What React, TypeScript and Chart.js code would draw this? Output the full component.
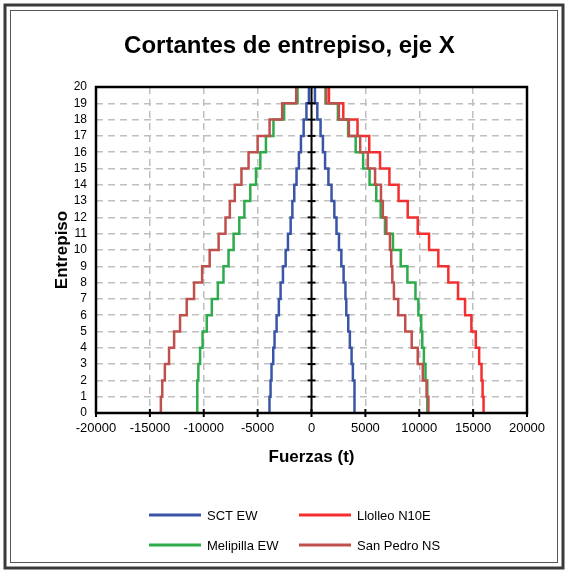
import { useEffect, useRef } from 'react';
import { Chart, registerables } from 'chart.js';

Chart.register(...registerables);

// Story shear per story (story 1 .. 20), values in t
const SCT_POS = [4030, 3970, 3840, 3720, 3560, 3410, 3230, 3150, 2980, 2770, 2550, 2320, 2120, 1860, 1570, 1260, 1060, 840, 540, 320];
const SCT_NEG = [-3900, -3800, -3710, -3550, -3430, -3240, -3030, -2870, -2650, -2400, -2185, -1935, -1775, -1600, -1390, -1170, -980, -730, -470, -240];
const LLOLLEO_POS = [15970, 15880, 15780, 15560, 15250, 14840, 14250, 13600, 12700, 11770, 10910, 9860, 8930, 8080, 7230, 6360, 5360, 4270, 2950, 1620];
const MELIPILLA_POS = [10800, 10720, 10580, 10430, 10280, 10180, 9920, 9650, 8900, 8280, 7560, 6820, 6420, 6010, 5390, 4790, 4100, 3400, 2450, 1300];
const MELIPILLA_NEG = [-10620, -10590, -10500, -10340, -10110, -9720, -9250, -8690, -8170, -7700, -7230, -6700, -6230, -5680, -5150, -4750, -4230, -3530, -2540, -1300];
const SANPEDRO_POS = [10850, 10680, 10330, 9860, 9300, 8700, 8050, 7650, 7500, 7400, 7280, 6950, 6620, 6450, 5900, 5230, 4520, 3470, 2540, 1380];
const SANPEDRO_NEG = [-13980, -13850, -13610, -13220, -12750, -12200, -11580, -10900, -10150, -9450, -8620, -7980, -7580, -7120, -6500, -5840, -5000, -3890, -2720, -1420];

const SERIES_NAMES = ['SCT EW', 'Llolleo N10E', 'Melipilla EW', 'San Pedro NS'];
const SERIES_COLORS = ['#3A55A6', '#F42F2F', '#2EAB4B', '#C0504D'];

const X_MIN = -20000;
const X_MAX = 20000;
const X_STEP = 5000;
const Y_MIN = 0;
const Y_MAX = 20;
const Y_STEP = 1;

const TITLE = 'Cortantes de entrepiso, eje X';
const X_TITLE = 'Fuerzas (t)';
const Y_TITLE = 'Entrepiso';

const FONT = "Arial, 'Liberation Sans', sans-serif";

const steps = (vals: number[]) =>
  vals.flatMap((v, i) => [
    { x: v, y: i },
    { x: v, y: i + 1 },
  ]);

const framePlugin = {
  id: 'frame',
  beforeDraw(chart: any) {
    const { ctx, width, height } = chart;
    ctx.save();
    ctx.fillStyle = '#ffffff';
    ctx.fillRect(0, 0, width, height);
    ctx.strokeStyle = '#3a3a3a';
    ctx.lineWidth = 3;
    ctx.strokeRect(5, 5, width - 10, height - 10);
    ctx.lineWidth = 1;
    ctx.strokeStyle = '#555555';
    ctx.strokeRect(10.5, 10.5, width - 21, height - 21);
    ctx.restore();
  },
  afterDraw(chart: any) {
    const { ctx, chartArea } = chart;
    ctx.save();
    ctx.fillStyle = '#000';
    ctx.font = `bold 24px ${FONT}`;
    ctx.textAlign = 'center';
    ctx.textBaseline = 'alphabetic';
    ctx.fillText(TITLE, (chartArea.left + chartArea.right) / 2 - 22, 53);
    ctx.restore();
  },
};

const axesPlugin = {
  id: 'axesOverlay',
  afterDatasetsDraw(chart: any) {
    const { ctx, chartArea, scales } = chart;
    const xs = scales.x;
    const ys = scales.y;
    ctx.save();
    ctx.strokeStyle = '#000';
    const x0 = xs.getPixelForValue(0);
    ctx.lineWidth = 2;
    ctx.beginPath();
    ctx.moveTo(x0, chartArea.top);
    ctx.lineTo(x0, chartArea.bottom);
    ctx.stroke();
    ys.ticks.forEach((t: any) => {
      const y = ys.getPixelForValue(t.value);
      ctx.beginPath();
      ctx.moveTo(x0 - 4, y);
      ctx.lineTo(x0 + 4, y);
      ctx.stroke();
    });
    xs.ticks.forEach((t: any) => {
      const x = xs.getPixelForValue(t.value);
      ctx.beginPath();
      ctx.moveTo(x, chartArea.bottom - 4);
      ctx.lineTo(x, chartArea.bottom + 4);
      ctx.stroke();
    });
    ctx.lineWidth = 2.5;
    ctx.strokeRect(chartArea.left, chartArea.top, chartArea.right - chartArea.left, chartArea.bottom - chartArea.top);
    ctx.restore();
  },
};

const legendPlugin = {
  id: 'gridLegend',
  afterDraw(chart: any) {
    const { ctx } = chart;
    const items = chart.data.datasets.filter((d: any) => d.inLegend);
    const colX = [149, 299];
    const rowY = [515, 545];
    ctx.save();
    ctx.font = `13px ${FONT}`;
    ctx.textBaseline = 'middle';
    ctx.textAlign = 'left';
    items.forEach((d: any, i: number) => {
      const x = colX[i % 2];
      const y = rowY[Math.floor(i / 2)];
      ctx.strokeStyle = d.borderColor;
      ctx.lineWidth = 3;
      ctx.beginPath();
      ctx.moveTo(x, y);
      ctx.lineTo(x + 52, y);
      ctx.stroke();
      ctx.fillStyle = '#000';
      ctx.fillText(d.label, x + 58, y + 1);
    });
    ctx.restore();
  },
};

export default function App() {
  const ref = useRef<HTMLCanvasElement | null>(null);
  useEffect(() => {
    if (!ref.current) return;
    const mk = (label: string, color: string, vals: number[], order: number, inLegend: boolean) => ({
      label,
      data: steps(vals),
      borderColor: color,
      backgroundColor: color,
      borderWidth: 2.5,
      pointRadius: 0,
      showLine: true,
      fill: false,
      tension: 0,
      order,
      inLegend,
    });
    const chart = new Chart(ref.current, {
      type: 'scatter',
      data: {
        datasets: [
          mk(SERIES_NAMES[0], SERIES_COLORS[0], SCT_POS, 3, true),
          mk(SERIES_NAMES[1], SERIES_COLORS[1], LLOLLEO_POS, 2, true),
          mk(SERIES_NAMES[2], SERIES_COLORS[2], MELIPILLA_POS, 1, true),
          mk(SERIES_NAMES[3], SERIES_COLORS[3], SANPEDRO_POS, 0, true),
          mk(SERIES_NAMES[0], SERIES_COLORS[0], SCT_NEG, 3, false),
          mk(SERIES_NAMES[2], SERIES_COLORS[2], MELIPILLA_NEG, 1, false),
          mk(SERIES_NAMES[3], SERIES_COLORS[3], SANPEDRO_NEG, 0, false),
        ] as any,
      },
      options: {
        animation: false,
        responsive: false,
        devicePixelRatio: 1,
        layout: { padding: { top: 87, right: 41, bottom: 100, left: 0 } },
        plugins: {
          legend: { display: false },
          title: { display: false },
          tooltip: { enabled: false },
        },
        scales: {
          x: {
            type: 'linear',
            min: X_MIN,
            max: X_MAX,
            afterFit: (s: any) => {
              s.height = 60;
            },
            ticks: {
              stepSize: X_STEP,
              autoSkip: false,
              maxRotation: 0,
              padding: 8,
              color: '#000',
              font: { family: FONT, size: 13 },
              callback: (v: any) => String(v),
            },
            grid: { color: '#bfbfbf', lineWidth: 1.5, drawTicks: false },
            border: { display: false, dash: [7, 5] },
            title: {
              display: true,
              text: X_TITLE,
              color: '#000',
              font: { family: FONT, size: 17, weight: 'bold' },
              padding: { top: 0, bottom: 5 },
            },
          },
          y: {
            type: 'linear',
            min: Y_MIN,
            max: Y_MAX,
            afterFit: (s: any) => {
              s.width = 96;
            },
            ticks: {
              stepSize: Y_STEP,
              autoSkip: false,
              padding: 9,
              color: '#000',
              font: { family: FONT, size: 12 },
              callback: (v: any) => String(v),
            },
            grid: { color: '#bfbfbf', lineWidth: 1.5, drawTicks: false },
            border: { display: false, dash: [7, 5] },
            title: {
              display: true,
              text: Y_TITLE,
              color: '#000',
              font: { family: FONT, size: 17, weight: 'bold' },
              padding: { top: 52, bottom: 0 },
            },
          },
        },
      } as any,
      plugins: [framePlugin, axesPlugin, legendPlugin],
    });
    return () => chart.destroy();
  }, []);
  return (
    <div style={{ position: 'fixed', left: 0, top: 0, width: 568, height: 573 }}>
      <canvas ref={ref} width={568} height={573} style={{ display: 'block' }} />
    </div>
  );
}
